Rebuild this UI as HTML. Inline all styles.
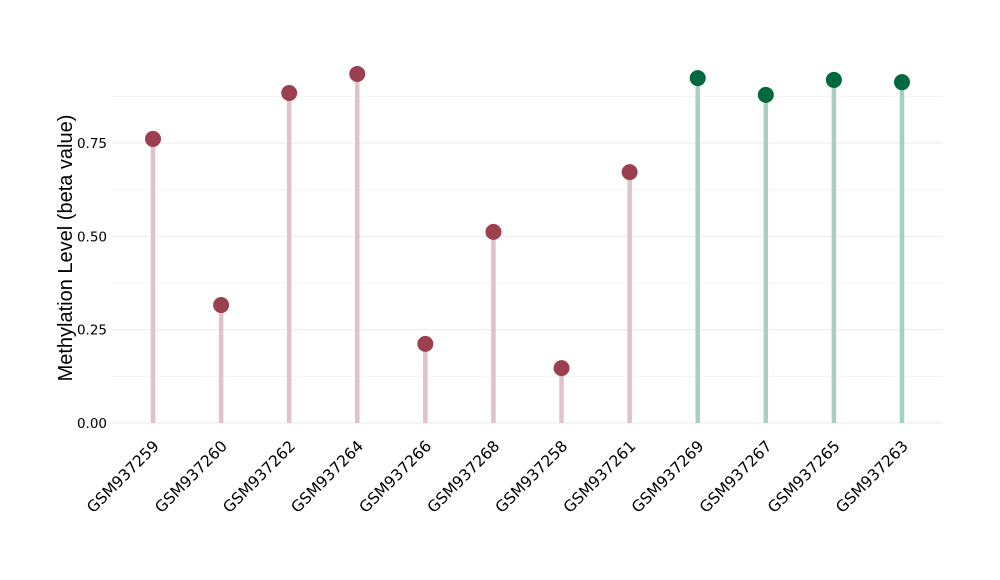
<!DOCTYPE html>
<html><head><meta charset="utf-8"><style>
html,body{margin:0;padding:0;background:#fff;}
svg{display:block;}
</style></head><body>
<svg id="chart" width="1000" height="580" xmlns="http://www.w3.org/2000/svg">
<g id="grid"></g>
<g id="marks"></g>
<g id="yaxis"></g>
<g id="xaxis"></g>
<text x="0" y="0" transform="translate(72,248) rotate(-90)" text-anchor="middle" font-family="Liberation Sans, sans-serif" font-size="20" fill="#000">Methylation Level (beta value)</text>
</svg>
<script>
const categories = ["GSM937259","GSM937260","GSM937262","GSM937264","GSM937266","GSM937268","GSM937258","GSM937261","GSM937269","GSM937267","GSM937265","GSM937263"];
const values = [0.761,0.316,0.884,0.935,0.212,0.512,0.147,0.672,0.924,0.879,0.919,0.913];
const groups = ["a","a","a","a","a","a","a","a","b","b","b","b"];
const yTicks = [0,0.25,0.5,0.75];
const yTickLabels = ["0.00","0.25","0.50","0.75"];
const yMinor = [0.125,0.375,0.625,0.875];

const NS="http://www.w3.org/2000/svg";
const left=112,right=943,x0=153,step=68.09;
function x(i){return x0+i*step;}
function y(v){return 423 - v*373.3;}
function mk(tag,attrs,parent){const e=document.createElementNS(NS,tag);for(const k in attrs)e.setAttribute(k,attrs[k]);parent.appendChild(e);return e;}
const grid=document.getElementById('grid'),marks=document.getElementById('marks'),ya=document.getElementById('yaxis'),xa=document.getElementById('xaxis');
yMinor.forEach(v=>{const l=mk('line',{x1:left,x2:right,y1:y(v),y2:y(v),stroke:'#f4f4f4','stroke-width':1},grid);

});
yTicks.forEach((v,i)=>{const l=mk('line',{x1:left,x2:right,y1:y(v),y2:y(v),stroke:'#ebebeb','stroke-width':1},grid);


const t=mk('text',{x:107,y:y(v)+5,'text-anchor':'end','font-family':'DejaVu Sans, sans-serif','font-size':13.5,fill:'#000'},ya);
t.textContent=yTickLabels[i];

});
const col={a:['#e0c3ca','#9c3f4e'],b:['#a9cfc3','#00693e']};
categories.forEach((c,i)=>{const g=groups[i];
const s=mk('line',{x1:x(i),x2:x(i),y1:y(0),y2:y(values[i]),stroke:col[g][0],'stroke-width':4.5},marks);


const p=mk('circle',{cx:x(i),cy:y(values[i]),r:8,fill:col[g][1]},marks);


const t=mk('text',{x:0,y:0,transform:`translate(${x(i)+7},${447}) rotate(-45)`,'text-anchor':'end','font-family':'DejaVu Sans, sans-serif','font-size':15.5,fill:'#000'},xa);
t.textContent=c;

});
</script>
</body></html>
